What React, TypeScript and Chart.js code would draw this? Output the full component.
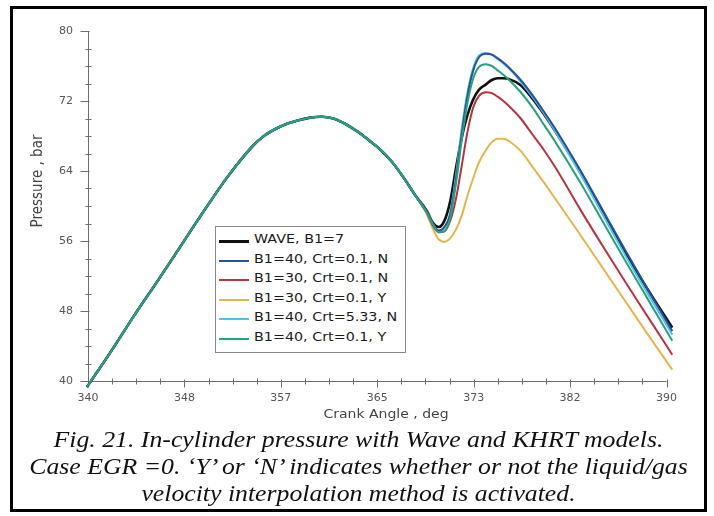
import { useEffect, useRef } from "react";
import { Chart, registerables } from "chart.js";

Chart.register(...registerables);

// Crank angle samples (deg) shared by every curve
const crankAngle = [
  339.9, 342.0, 344.0, 346.1, 348.1, 350.1, 352.1, 354.2, 355.2, 356.2, 357.2,
  358.2, 359.2, 360.2, 361.2, 362.2, 363.3, 364.3, 365.3, 366.3, 367.3, 368.3,
  369.3, 369.8, 370.3, 370.8, 371.3, 371.8, 372.3, 372.8, 373.3, 373.8, 374.4,
  374.9, 375.4, 375.9, 376.4, 377.4, 378.4, 379.4, 380.4, 382.5, 384.5, 386.5,
  388.5, 390.5,
];

// In-cylinder pressure (bar) for each spray model setting
const waveB1_7 = [
  39.3, 43.4, 47.5, 51.6, 55.6, 59.6, 63.4, 66.8, 68.0, 68.8, 69.4,
  69.8, 70.1, 70.2, 70.0, 69.4, 68.5, 67.5, 66.4, 65.0, 63.2, 61.2,
  59.4, 58.1, 57.6, 58.3, 60.5, 64.3, 67.8, 70.4, 72.2, 73.3, 73.9,
  74.4, 74.6, 74.6, 74.5, 73.8, 72.3, 70.5, 68.5, 64.0, 59.2, 54.5,
  50.2, 46.1,
];
const b1_40_crt01_N = [
  39.3, 43.4, 47.5, 51.6, 55.6, 59.6, 63.4, 66.8, 68.0, 68.8, 69.4,
  69.8, 70.1, 70.2, 70.0, 69.4, 68.5, 67.5, 66.4, 65.0, 63.2, 61.2,
  59.3, 58.0, 57.2, 57.6, 59.0, 63.0, 68.2, 72.6, 75.5, 77.0, 77.4,
  77.3, 76.9, 76.4, 75.8, 74.4, 72.7, 70.8, 68.8, 64.2, 59.5, 54.8,
  50.2, 45.7,
];
const b1_30_crt01_N = [
  39.3, 43.4, 47.5, 51.6, 55.6, 59.6, 63.4, 66.8, 68.0, 68.8, 69.4,
  69.8, 70.1, 70.2, 70.0, 69.4, 68.5, 67.5, 66.4, 65.0, 63.2, 61.2,
  59.2, 57.8, 57.0, 57.1, 58.3, 60.8, 64.6, 68.5, 71.3, 72.6, 73.0,
  72.9, 72.5, 72.0, 71.4, 70.0, 68.2, 66.4, 64.4, 59.7, 55.4, 51.2,
  47.1, 43.0,
];
const b1_30_crt01_Y = [
  39.3, 43.4, 47.5, 51.6, 55.6, 59.6, 63.4, 66.8, 68.0, 68.8, 69.4,
  69.8, 70.1, 70.2, 70.0, 69.4, 68.5, 67.5, 66.4, 65.0, 63.2, 61.2,
  59.0, 57.4, 56.2, 55.9, 56.3, 57.3, 58.9, 61.2, 63.2, 65.0, 66.4,
  67.3, 67.7, 67.7, 67.4, 66.3, 64.5, 62.7, 60.8, 56.8, 52.9, 49.0,
  45.1, 41.3,
];
const b1_40_crt533_N = [
  39.3, 43.4, 47.5, 51.6, 55.6, 59.6, 63.4, 66.8, 68.0, 68.8, 69.4,
  69.8, 70.1, 70.2, 70.0, 69.4, 68.5, 67.5, 66.4, 65.0, 63.2, 61.2,
  59.3, 58.0, 57.1, 57.5, 59.2, 63.5, 68.8, 73.0, 75.8, 77.2, 77.5,
  77.3, 76.8, 76.3, 75.7, 74.2, 72.5, 70.6, 68.5, 63.8, 59.0, 54.2,
  49.7, 45.3,
];
const b1_40_crt01_Y = [
  39.3, 43.4, 47.5, 51.6, 55.6, 59.6, 63.4, 66.8, 68.0, 68.8, 69.4,
  69.8, 70.1, 70.2, 70.0, 69.4, 68.5, 67.5, 66.4, 65.0, 63.2, 61.2,
  59.2, 57.9, 57.0, 57.1, 58.6, 62.5, 67.5, 71.8, 74.6, 75.9, 76.2,
  76.0, 75.5, 75.0, 74.4, 73.0, 71.3, 69.3, 67.3, 62.8, 58.2, 53.6,
  49.1, 44.6,
];

const seriesNames = [
  "WAVE, B1=7",
  "B1=40, Crt=0.1, N",
  "B1=30, Crt=0.1, N",
  "B1=30, Crt=0.1, Y",
  "B1=40, Crt=5.33, N",
  "B1=40, Crt=0.1, Y",
];
const seriesValues = [
  waveB1_7,
  b1_40_crt01_N,
  b1_30_crt01_N,
  b1_30_crt01_Y,
  b1_40_crt533_N,
  b1_40_crt01_Y,
];
const seriesColors = ["#111111", "#2a4f9e", "#b8323f", "#e6b54a", "#4cc4e6", "#26a27c"];
const seriesWidths = [2.6, 2, 2, 2, 2, 2];
const seriesOrder = [4, 2, 5, 6, 3, 1];

// Axis ticks
const xTickValues = [340, 348.333, 356.667, 365, 373.333, 381.667, 390];
const xTickLabels = ["340", "348", "357", "365", "373", "382", "390"];
const yTickLabels = ["40", "48", "56", "64", "72", "80"];

const captionLines = [
  "Fig. 21. In-cylinder pressure with Wave and KHRT models.",
  "Case EGR =0. \u2018Y\u2019 or \u2018N\u2019 indicates whether or not the liquid/gas",
  "velocity interpolation method is activated.",
];

const STRETCH = 1.12;

const axisDecor = {
  id: "axisDecor",
  beforeDatasetsDraw(chart: any) {
    const { ctx, chartArea, scales } = chart;
    const xs = scales.x;
    const ys = scales.y;
    const L = Math.round(chartArea.left) + 0.5;
    const B = Math.round(chartArea.bottom) + 0.5;
    ctx.save();
    ctx.strokeStyle = "#6e6e6e";
    ctx.lineWidth = 1;
    ctx.beginPath();
    ctx.moveTo(L, chartArea.top);
    ctx.lineTo(L, B);
    ctx.lineTo(chartArea.right, B);
    // x ticks: labelled ones reach outward, three minor ones between
    const xv = xs.ticks.map((t: any) => t.value);
    xv.forEach((v: number, i: number) => {
      const p = Math.round(xs.getPixelForValue(v)) + 0.5;
      ctx.moveTo(p, B - 2);
      ctx.lineTo(p, B + 6);
      if (i < xv.length - 1) {
        for (let k = 1; k < 4; k++) {
          const m = Math.round(xs.getPixelForValue(v + ((xv[i + 1] - v) * k) / 4)) + 0.5;
          ctx.moveTo(m, B - 3);
          ctx.lineTo(m, B + 3);
        }
      }
    });
    // y ticks
    const yv = ys.ticks.map((t: any) => t.value);
    yv.forEach((v: number, i: number) => {
      const p = Math.round(ys.getPixelForValue(v)) + 0.5;
      ctx.moveTo(L - 8, p);
      ctx.lineTo(L + 1, p);
      if (i < yv.length - 1) {
        for (let k = 1; k < 4; k++) {
          const m = Math.round(ys.getPixelForValue(v + ((yv[i + 1] - v) * k) / 4)) + 0.5;
          ctx.moveTo(L - 3, m);
          ctx.lineTo(L + 3, m);
        }
      }
    });
    ctx.stroke();

    // axis titles
    ctx.fillStyle = "#444";
    ctx.textAlign = "center";
    ctx.textBaseline = "middle";
    ctx.save();
    ctx.font = '12.5px "DejaVu Sans"';
    ctx.translate(386, 415);
    ctx.scale(STRETCH, 1);
    ctx.fillText("Crank Angle , deg", 0, 0);
    ctx.restore();
    ctx.save();
    ctx.font = '13.5px "DejaVu Sans"';
    ctx.translate(38, 181);
    ctx.scale(STRETCH, 1);
    ctx.rotate(-Math.PI / 2);
    ctx.fillText("Pressure , bar", 0, 0);
    ctx.restore();
    ctx.restore();
  },
};

export default function App() {
  const canvasRef = useRef<HTMLCanvasElement | null>(null);

  useEffect(() => {
    const canvas = canvasRef.current;
    if (!canvas) return;
    const chart = new Chart(canvas, {
      type: "line",
      data: {
        datasets: seriesNames.map((name, s) => ({
          label: name,
          data: crankAngle.map((a, i) => ({ x: a, y: seriesValues[s][i] })),
          borderColor: seriesColors[s],
          backgroundColor: seriesColors[s],
          borderWidth: seriesWidths[s],
          pointRadius: 0,
          cubicInterpolationMode: "monotone" as const,
          fill: false,
          order: seriesOrder[s],
          clip: { left: 4, top: 4, right: 12, bottom: 8 },
        })),
      },
      options: {
        animation: false,
        responsive: false,
        events: [],
        layout: { padding: { left: 0, right: 47.5, top: 31, bottom: 0 } },
        plugins: {
          legend: { display: false },
          tooltip: { enabled: false },
          title: { display: false },
        },
        scales: {
          x: {
            type: "linear",
            min: 340,
            max: 390,
            afterBuildTicks: (scale: any) => {
              scale.ticks = xTickValues.map((v) => ({ value: v }));
            },
            afterFit: (scale: any) => {
              scale.height = 49;
            },
            grid: { display: false, drawTicks: false },
            border: { display: false },
            ticks: {
              autoSkip: false,
              maxRotation: 0,
              padding: 11,
              color: "#555",
              font: { family: "DejaVu Sans", size: 11 },
              callback: (_v: any, i: number) => xTickLabels[i],
            },
          },
          y: {
            type: "linear",
            min: 40,
            max: 80,
            afterFit: (scale: any) => {
              scale.width = 88;
            },
            grid: { display: false, drawTicks: false },
            border: { display: false },
            ticks: {
              stepSize: 8,
              padding: 15,
              color: "#555",
              font: { family: "DejaVu Sans", size: 11 },
              callback: (_v: any, i: number) => yTickLabels[i],
            },
          },
        },
      },
      plugins: [axisDecor],
    });
    return () => chart.destroy();
  }, []);

  return (
    <div style={{ position: "absolute", left: 0, top: 0, width: 714, height: 516, background: "#fff" }}>
      <div
        style={{
          position: "absolute",
          left: 10,
          top: 6,
          width: 697,
          height: 506,
          border: "3px solid #000",
          boxSizing: "border-box",
        }}
      />
      <canvas
        ref={canvasRef}
        width={714}
        height={430}
        style={{ position: "absolute", left: 0, top: 0, width: 714, height: 430 }}
      />
      <div
        style={{
          position: "absolute",
          left: 215,
          top: 226,
          width: 191,
          height: 127,
          border: "1px solid #8a8a8a",
          background: "#fff",
          boxSizing: "border-box",
        }}
      >
        {seriesNames.map((name, i) => (
          <div
            key={name}
            style={{ position: "absolute", left: 0, top: 4 + i * 19.6, height: 20, width: 188 }}
          >
            <div
              style={{
                position: "absolute",
                left: 3,
                top: 10 - seriesWidths[i] / 2,
                width: 30,
                height: seriesWidths[i] + (i === 0 ? 0.4 : 0),
                background: seriesColors[i],
              }}
            />
            <div
              style={{
                position: "absolute",
                left: 38,
                top: 0,
                lineHeight: "20px",
                whiteSpace: "nowrap",
                font: '13px "DejaVu Sans"',
                color: "#1a1a1a",
                transform: "scaleX(1.1)",
                transformOrigin: "left center",
              }}
            >
              {name}
            </div>
          </div>
        ))}
      </div>
      <div
        style={{
          position: "absolute",
          left: 11,
          top: 426,
          width: 695,
          textAlign: "center",
          font: 'italic 23px "Liberation Serif"',
          lineHeight: "27px",
          color: "#111",
          transform: `scaleX(${STRETCH})`,
          transformOrigin: "center top",
        }}
      >
        {captionLines.map((line) => (
          <div key={line} style={{ whiteSpace: "nowrap" }}>
            {line}
          </div>
        ))}
      </div>
    </div>
  );
}
